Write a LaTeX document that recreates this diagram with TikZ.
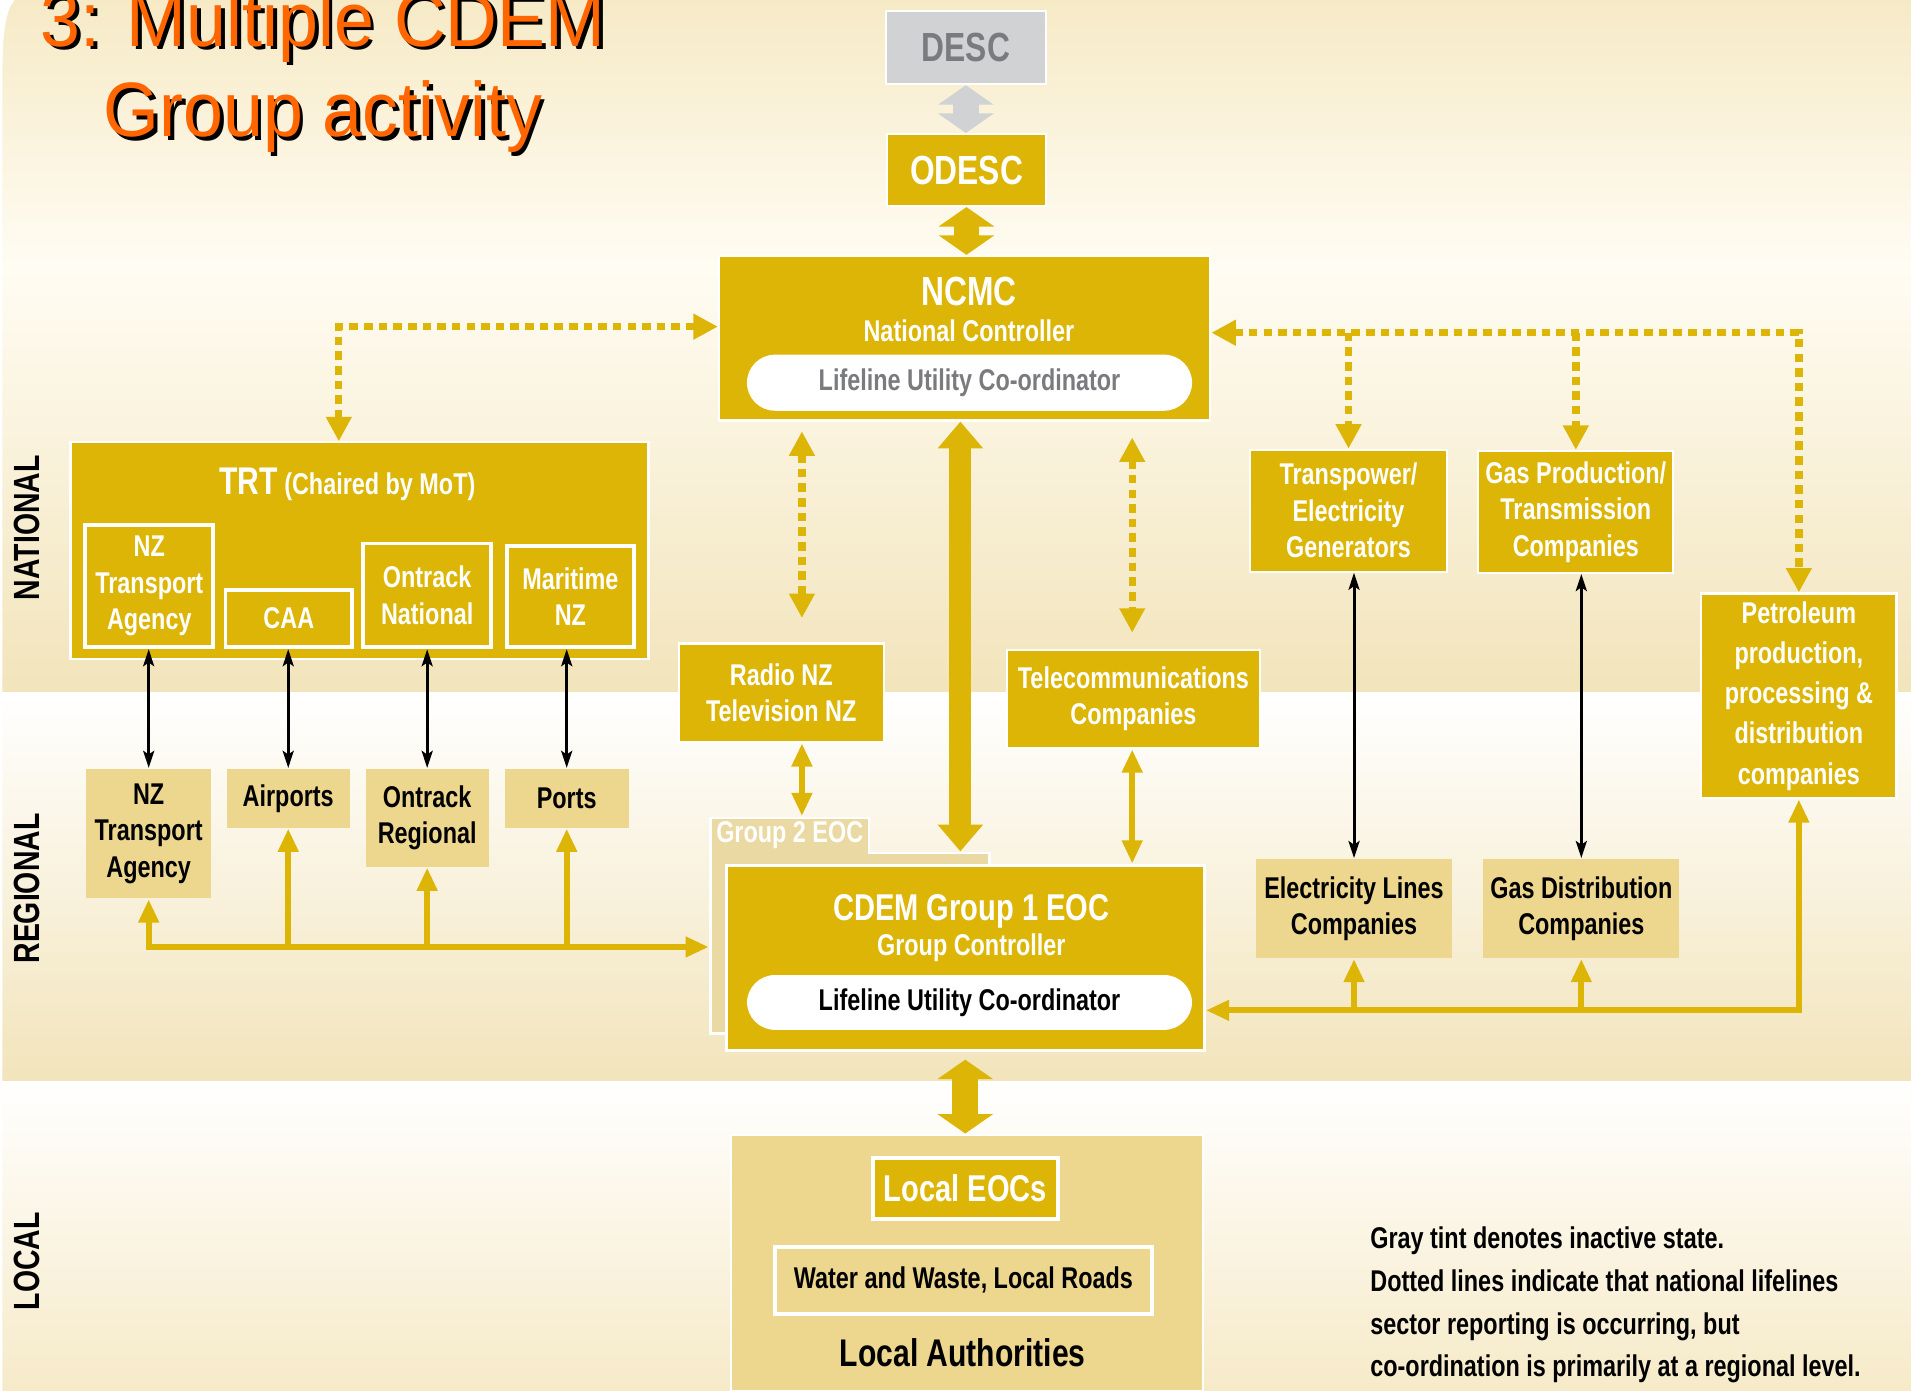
\documentclass[tikz,border=0pt]{standalone}
\usepackage{fontspec}
\setmainfont{Liberation Sans}
\newfontfamily\condfont[FakeStretch=0.78]{Liberation Sans}
\newfontfamily\titlefont[FakeStretch=0.93]{Liberation Sans}
\usepackage{tikz}
\usetikzlibrary{arrows.meta}
\definecolor{cdgold}{RGB}{221,181,6}
\definecolor{cdtan}{RGB}{237,214,142}
\definecolor{cdpale}{RGB}{234,217,163}
\definecolor{cdgray}{RGB}{209,210,212}
\definecolor{cdgraytext}{RGB}{122,123,126}
\definecolor{cdorange}{RGB}{255,102,0}
\definecolor{bandtop}{RGB}{246,234,198}
\definecolor{bandwhite}{RGB}{255,252,243}
\definecolor{bandbeige}{RGB}{242,228,187}
\definecolor{bandlocal}{RGB}{246,234,200}
\newcommand*{\fsz}[2]{\fontsize{#1pt}{#2pt}\selectfont}

\begin{document}
\begin{tikzpicture}[
		x=0.01cm,
		y=-0.01cm,
		thick
	]
	\tikzstyle{goldbox}=[
		rectangle,
		fill=cdgold,
		draw=white,
		line width=0.5pt,
		text=white,
		align=center,
		inner sep=0pt,
		font=\condfont\bfseries\fsz{7}{8.5}
	]
	\tikzstyle{subbox}=[goldbox, line width=0.9pt]
	\tikzstyle{tanbox}=[goldbox, fill=cdtan, draw=none, text=black]
	\tikzstyle{graybox}=[goldbox, fill=cdgray, text=cdgraytext]
	\tikzstyle{bigtext}=[font=\condfont\bfseries\fsz{9.5}{11}]
	\tikzstyle{subtext}=[text=white, inner sep=0pt, font=\condfont\bfseries\fsz{7}{8.5}]
	\tikzstyle{pill}=[
		rectangle,
		rounded corners=0.23cm,
		fill=white,
		inner sep=0pt,
		font=\condfont\bfseries\fsz{7}{8.5}
	]
	\tikzstyle{sidetext}=[rotate=90, inner sep=0pt, font=\condfont\bfseries\fsz{8.5}{10}]
	\tikzstyle{titletext}=[text=cdorange, inner sep=0pt, font=\titlefont\fsz{18}{21}]
	\tikzstyle{notetext}=[align=left, inner sep=0pt, font=\condfont\bfseries\fsz{7}{10}]
	\tikzstyle{dotline}=[
		draw=cdgold,
		line width=0.06cm,
		dash pattern=on 0.07cm off 0.05cm,
		>={Triangle[length=0.2cm,width=0.2cm]}
	]
	\tikzstyle{goldline}=[draw=cdgold, line width=0.05cm, >={Triangle[length=0.19cm,width=0.16cm]}]
	\tikzstyle{blackline}=[draw=black, line width=0.025cm, >={Stealth[length=0.14cm,width=0.09cm,inset=0.03cm]}]
	\tikzstyle{blockarrow}=[draw=cdgold, line width=0.21cm, >={Triangle[length=0.16cm,width=0.45cm]}]
	\tikzstyle{bigarrow}=[draw=cdgold, line width=0.18cm, >={Triangle[length=0.22cm,width=0.36cm]}]

	\useasboundingbox (0,0) rectangle (1568,1141);
	\shade[top color=bandtop, bottom color=bandwhite] (0,0) rectangle (1568,220);
	\shade[top color=bandwhite, bottom color=bandbeige] (0,220) rectangle (1568,568);
	\shade[top color=white, bottom color=bandbeige] (0,568) rectangle (1568,887);
	\shade[top color=white, bottom color=bandlocal] (0,887) rectangle (1568,1141);
	\fill[white] (0,0) -- (12,0) .. controls (5,8) and (2,25) .. (2,60) -- (2,1141) -- (0,1141) -- cycle;

	\node[titletext, text=black, anchor=base] (titleshadowa) at (268,41) {3: Multiple CDEM};
	\node[titletext, anchor=base] (titlea) at (265,38) {3: Multiple CDEM};
	\node[titletext, text=black, anchor=base] (titleshadowb) at (268,115) {Group activity};
	\node[titletext, anchor=base] (titleb) at (265,112) {Group activity};

	\node[sidetext] (national) at (22,433) {NATIONAL};
	\node[sidetext] (regional) at (22,729) {REGIONAL};
	\node[sidetext] (localside) at (22,1035) {LOCAL};

	\node[graybox, bigtext, minimum width=1.31cm, minimum height=0.60cm] (desc) at (792.5,39) {DESC};
	\node[goldbox, bigtext, minimum width=1.30cm, minimum height=0.59cm] (odesc) at (793,139.5) {ODESC};

	\node[goldbox, minimum width=4.03cm, minimum height=1.35cm] (ncmc) at (791.5,277.5) {};
	\node[subtext, bigtext, anchor=base] (ncmctitle) at (795,251) {NCMC};
	\node[subtext, anchor=base] (ncmcsub) at (795,280) {National Controller};
	\node[pill, text=cdgraytext, minimum width=3.65cm, minimum height=0.46cm] (ncmcluc) at (795.5,314) {Lifeline Utility Co-ordinator};

	\node[goldbox, minimum width=4.74cm, minimum height=1.78cm] (trt) at (295,452) {};
	\node[subtext, anchor=base] (trttitle) at (285,406) {{\fsz{9}{10}TRT} (Chaired by MoT)};
	\node[subbox, minimum width=1.05cm, minimum height=1.00cm] (nztanat) at (122.5,481) {NZ\\Transport\\Agency};
	\node[subbox, minimum width=1.04cm, minimum height=0.47cm] (caa) at (237,507.5) {CAA};
	\node[subbox, minimum width=1.05cm, minimum height=0.85cm] (ontracknat) at (350.5,488.5) {Ontrack\\National};
	\node[subbox, minimum width=1.04cm, minimum height=0.83cm] (maritime) at (468,489.5) {Maritime\\NZ};

	\node[tanbox, minimum width=1.02cm, minimum height=1.06cm] (nztareg) at (122,684) {NZ\\Transport\\Agency};
	\node[tanbox, minimum width=1.01cm, minimum height=0.48cm] (airports) at (236.5,655) {Airports};
	\node[tanbox, minimum width=1.01cm, minimum height=0.80cm] (ontrackreg) at (350.5,671) {Ontrack\\Regional};
	\node[tanbox, minimum width=1.02cm, minimum height=0.48cm] (ports) at (465,655) {Ports};

	\node[goldbox, minimum width=1.68cm, minimum height=0.81cm] (radio) at (641,568.5) {Radio NZ\\Television NZ};
	\node[goldbox, minimum width=2.08cm, minimum height=0.81cm] (telecom) at (930,573.5) {Telecommunications\\Companies};

	\node[goldbox, minimum width=1.61cm, minimum height=1.00cm] (transpower) at (1106.5,419) {Transpower/\\Electricity\\Generators};
	\node[goldbox, minimum width=1.60cm, minimum height=1.00cm] (gasprod) at (1293,420) {Gas Production/\\Transmission\\Companies};
	\node[goldbox, font=\condfont\bfseries\fsz{7}{9.4}, minimum width=1.60cm, minimum height=1.68cm] (petrol) at (1476,571) {Petroleum\\production,\\processing \&\\distribution\\companies};
	\node[tanbox, minimum width=1.60cm, minimum height=0.81cm] (eleclines) at (1111,745.5) {Electricity Lines\\Companies};
	\node[tanbox, minimum width=1.61cm, minimum height=0.81cm] (gasdist) at (1297.5,745.5) {Gas Distribution\\Companies};

	\fill[cdpale, draw=white, line width=0.6pt] (583,671) -- (713,671) -- (713,700) -- (812,700) -- (812,848) -- (583,848) -- cycle;
	\node[inner sep=0pt, minimum width=2.29cm, minimum height=1.48cm] (grouptwo) at (697.5,774) {};
	\node[subtext, minimum width=1.30cm, minimum height=0.29cm] (grouptab) at (648,685.5) {Group 2 EOC};

	\node[goldbox, line width=0.8pt, minimum width=3.92cm, minimum height=1.52cm] (cdem) at (792,786) {};
	\node[subtext, font=\condfont\bfseries\fsz{8.7}{10}, anchor=base] (cdemtitle) at (797,755) {CDEM Group 1 EOC};
	\node[subtext, anchor=base] (cdemsub) at (797,784) {Group Controller};
	\node[pill, text=black, minimum width=3.65cm, minimum height=0.45cm] (cdemluc) at (795.5,822.5) {Lifeline Utility Co-ordinator};

	\node[tanbox, draw=white, minimum width=3.87cm, minimum height=2.10cm] (local) at (793.5,1036) {};
	\node[goldbox, line width=0.9pt, font=\condfont\bfseries\fsz{8.7}{10}, minimum width=1.52cm, minimum height=0.50cm] (localeoc) at (792,975) {Local EOCs};
	\node[tanbox, draw=white, line width=0.9pt, minimum width=3.09cm, minimum height=0.55cm] (water) at (790.5,1050.5) {Water and Waste, Local Roads};
	\node[inner sep=0pt, anchor=base, font=\condfont\bfseries\fsz{9}{10}] (authorities) at (790,1121) {Local Authorities};

	\node[notetext, anchor=north west] (note) at (1123,1005) {Gray tint denotes inactive state.\\Dotted lines indicate that national lifelines\\sector reporting is occurring, but\\co-ordination is primarily at a regional level.};

	\coordinate (trtdot) at (278,0);
	\coordinate (ncmcdot) at (0,268);
	\coordinate (rdot) at (0,273);
	\coordinate (radiox) at (658,0);
	\coordinate (telx) at (929,0);
	\coordinate (bigx) at (788,0);
	\coordinate (lbus) at (0,777);
	\coordinate (rbus) at (0,829);

	\draw[blockarrow, draw=cdgray, <->] (desc.south) -- (desc.south |- odesc.north);
	\draw[blockarrow, <->] (odesc.south) -- (odesc.south |- ncmc.north);
	\draw[blockarrow, <->, shorten <=0.06cm] (cdem.south) -- (cdem.south |- local.north);
	\draw[bigarrow, <->] (ncmc.south -| bigx) -- (grouptwo.north -| bigx);

	\draw[dotline, <->] (trt.north -| trtdot) |- (ncmc.west |- ncmcdot);
	\draw[dotline, <->] (ncmc.east |- rdot) -| (petrol.north);
	\draw[dotline, ->] (transpower.north |- rdot) -- (transpower.north);
	\draw[dotline, ->] (gasprod.north |- rdot) -- (gasprod.north);
	\draw[dotline, <->, shorten <=0.08cm, shorten >=0.2cm] (ncmc.south -| radiox) -- (radio.north -| radiox);
	\draw[dotline, <->, shorten <=0.13cm, shorten >=0.13cm] (ncmc.south -| telx) -- (telecom.north -| telx);

	\draw[goldline, <->] (radio.south -| radiox) -- (grouptab.north -| radiox);
	\draw[goldline, <->] (telecom.south -| telx) -- (cdem.north -| telx);

	\draw[blackline, <->] (nztareg.north |- nztanat.south) -- (nztareg.north);
	\draw[blackline, <->] (airports.north |- caa.south) -- (airports.north);
	\draw[blackline, <->] (ontrackreg.north |- ontracknat.south) -- (ontrackreg.north);
	\draw[blackline, <->] (ports.north |- maritime.south) -- (ports.north);
	\draw[blackline, <->] (eleclines.north |- transpower.south) -- (eleclines.north);
	\draw[blackline, <->] (gasdist.north |- gasprod.south) -- (gasdist.north);

	\draw[goldline, <->] (nztareg.south) |- (grouptwo.west |- lbus);
	\draw[goldline, ->] (airports.south |- lbus) -- (airports.south);
	\draw[goldline, ->] (ontrackreg.south |- lbus) -- (ontrackreg.south);
	\draw[goldline, ->] (ports.south |- lbus) -- (ports.south);

	\draw[goldline, <->] (petrol.south) |- (cdem.east |- rbus);
	\draw[goldline, ->] (eleclines.south |- rbus) -- (eleclines.south);
	\draw[goldline, ->] (gasdist.south |- rbus) -- (gasdist.south);
\end{tikzpicture}
\end{document}
